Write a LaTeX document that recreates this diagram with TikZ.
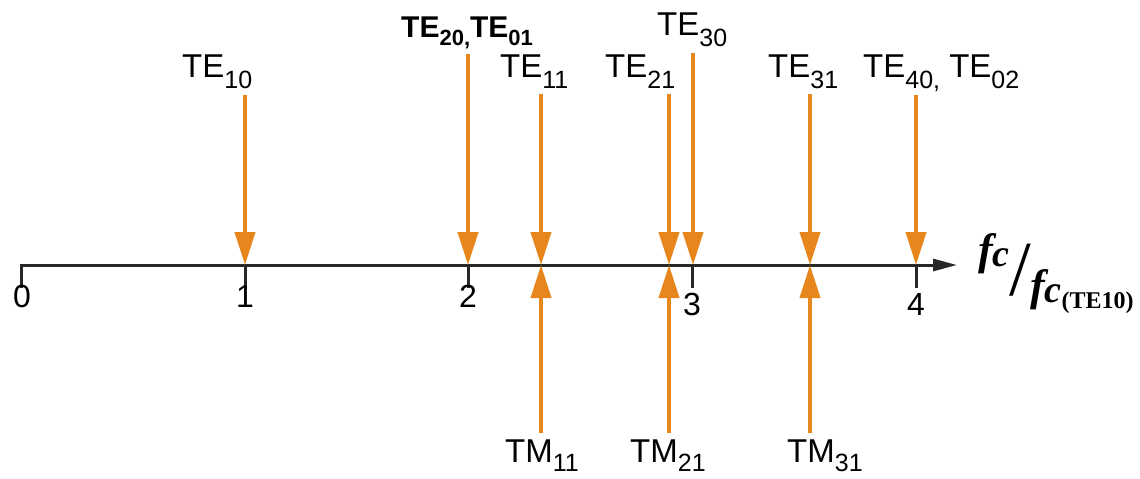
\documentclass[tikz,border=0pt]{standalone}
\usepackage{fontspec}
\setmainfont{Liberation Sans}
\newfontfamily\fcserif{Liberation Serif}
\usetikzlibrary{arrows.meta}
\definecolor{modeorange}{RGB}{232,134,30}
\definecolor{axisgray}{RGB}{40,40,40}
\newcommand\modelbl[2]{#1\raisebox{-11pt}{\fontsize{25}{25}\selectfont #2}}
\newcommand\modelblm[2]{#1\raisebox{-9pt}{\fontsize{25}{25}\selectfont #2}}
\newcommand\modelblb[2]{#1\raisebox{-8pt}{\fontsize{22}{22}\selectfont #2}}
\begin{document}
\begin{tikzpicture}[x=1pt,y=-1pt,
  lbl/.style={anchor=base west,inner sep=0pt,font=\fontsize{33}{33}\selectfont},
  ticklbl/.style={anchor=base,inner sep=0pt,font=\fontsize{32}{32}\selectfont},
  modearrow/.style={draw=modeorange,line width=4pt,-{Triangle[length=33pt,width=20pt]}},
  axisline/.style={draw=axisgray,line width=3pt},
  tickmark/.style={draw=axisgray,line width=3pt}]
\useasboundingbox (0,0) rectangle (1140,479);
% axis
\coordinate (o) at (21,265);
\coordinate (obot) at (21,288);
\coordinate (aend) at (957,265);
\draw[axisline,-{Triangle[length=24pt,width=12pt]}] (obot) -- (o) -- (aend);
\foreach \n/\x in {1/245,2/468,3/692,4/916}{
  \coordinate (t\n) at (\x,265);
  \coordinate (tb\n) at (\x,288);
  \draw[tickmark] (t\n) -- (tb\n);
}
\node[ticklbl] (l0) at (22,307) {0};
\node[ticklbl] (l1) at (245,307) {1};
\node[ticklbl] (l2) at (468,307) {2};
\node[ticklbl] (l3) at (692,315) {3};
\node[ticklbl] (l4) at (916,315) {4};
% mode points on axis
\coordinate (p10) at (245,265);
\coordinate (p20) at (468,265);
\coordinate (p11) at (541,265);
\coordinate (p21) at (669,265);
\coordinate (p30) at (693,265);
\coordinate (p31) at (810,265);
\coordinate (p40) at (916,265);
% arrow starts
\coordinate (s10) at (245,95);
\coordinate (s20) at (468,54);
\coordinate (s11) at (541,94);
\coordinate (s21) at (669,94);
\coordinate (s30) at (693,53);
\coordinate (s31) at (810,94);
\coordinate (s40) at (916,95);
\coordinate (m11) at (541,433);
\coordinate (m21) at (669,433);
\coordinate (m31) at (810,433);
\foreach \k in {10,20,11,21,30,31,40}{\draw[modearrow] (s\k) -- (p\k);}
\foreach \k in {11,21,31}{\draw[modearrow] (m\k) -- (p\k);}
% labels
\node[lbl] (n10) at (182,77) {\modelbl{TE}{10}};
\node[lbl,font=\fontsize{30}{30}\selectfont\bfseries] (n20) at (401,37) {\modelblb{TE}{20,}\modelblb{TE}{01}};
\node[lbl] (n11) at (500,77) {\modelbl{TE}{11}};
\node[lbl] (n21) at (605,77) {\modelbl{TE}{21}};
\node[lbl] (n30) at (657,35) {\modelbl{TE}{30}};
\node[lbl] (n31) at (768,77) {\modelbl{TE}{31}};
\node[lbl] (n40) at (863,77) {\modelbl{TE}{40,} \modelbl{TE}{02}};
\node[lbl] (tm11) at (505,462) {\modelblm{TM}{11}};
\node[lbl] (tm21) at (630,462) {\modelblm{TM}{21}};
\node[lbl] (tm31) at (787,462) {\modelblm{TM}{31}};
% axis quantity
\node[anchor=base west,inner sep=0pt,font=\fontsize{44}{44}\fcserif\bfseries\itshape] (num) at (978,264) {f\raisebox{-2pt}{\fontsize{38}{38}\selectfont c}};
\node[anchor=center,inner sep=0pt,font=\fontsize{78}{78}\fcserif] (slash) at (1020,270) {/};
\node[anchor=base west,inner sep=0pt,font=\fontsize{44}{44}\fcserif\bfseries\itshape] (den) at (1030,300) {f\raisebox{-2pt}{\fontsize{38}{38}\selectfont c}\raisebox{-8pt}{\fontsize{24}{24}\selectfont\upshape(TE10)}};
\end{tikzpicture}
\end{document}
